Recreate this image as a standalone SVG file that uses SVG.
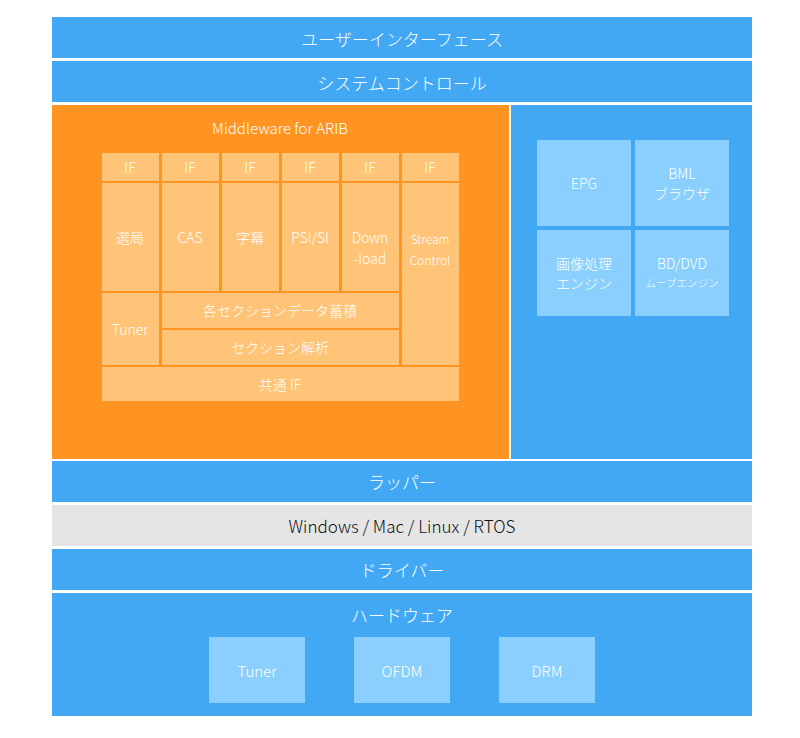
<svg xmlns="http://www.w3.org/2000/svg" width="800" height="738" viewBox="0 0 800 738">
<style>
text{font-family:"Noto Sans CJK JP","Noto Sans",sans-serif;fill:#fff;text-anchor:middle;dominant-baseline:central;font-weight:300}
.b{fill:#42a8f4}.o{fill:#ff9422}.lo{fill:#ffc477}.lb{fill:#8acffd}.g{fill:#e5e5e5}
.t17{font-size:17px}.t15{font-size:15px}.t14{font-size:14px}.t12{font-size:12px}
</style>
<rect width="800" height="738" fill="#fff"/>
<g id="ui"><rect class="b" x="52" y="17" width="700" height="41"/><text class="t17" x="402" y="38">ユーザーインターフェース</text></g>
<g id="sys"><rect class="b" x="52" y="61" width="700" height="41"/><text class="t17" x="402" y="82">システムコントロール</text></g>
<g id="mw"><rect class="o" x="52" y="105" width="457" height="354"/><text class="t15" x="280" y="127">Middleware for ARIB</text></g>
<g id="ifs">
<rect class="lo" x="102" y="153" width="57" height="28"/><text class="t14" x="130" y="167">IF</text>
<rect class="lo" x="162" y="153" width="57" height="28"/><text class="t14" x="190" y="167">IF</text>
<rect class="lo" x="222" y="153" width="57" height="28"/><text class="t14" x="250" y="167">IF</text>
<rect class="lo" x="282" y="153" width="57" height="28"/><text class="t14" x="310" y="167">IF</text>
<rect class="lo" x="342" y="153" width="57" height="28"/><text class="t14" x="370" y="167">IF</text>
<rect class="lo" x="402" y="153" width="57" height="28"/><text class="t14" x="430" y="167">IF</text>
</g>
<g id="senkyoku"><rect class="lo" x="102" y="183" width="57" height="108"/><text class="t14" x="130" y="237">選局</text></g>
<g id="cas"><rect class="lo" x="162" y="183" width="57" height="108"/><text class="t14" x="190" y="237">CAS</text></g>
<g id="jimaku"><rect class="lo" x="222" y="183" width="57" height="108"/><text class="t14" x="250" y="237">字幕</text></g>
<g id="psi"><rect class="lo" x="282" y="183" width="57" height="108"/><text class="t14" x="310" y="237">PSI/SI</text></g>
<g id="dl"><rect class="lo" x="342" y="183" width="57" height="108"/><text class="t14" x="370" y="237">Down</text><text class="t14" x="370" y="258">-load</text></g>
<g id="sc"><rect class="lo" x="402" y="183" width="57" height="182"/><text class="t12" x="430" y="238">Stream</text><text class="t12" x="430" y="259">Control</text></g>
<g id="tuner"><rect class="lo" x="102" y="293" width="57" height="72"/><text class="t14" x="130" y="329">Tuner</text></g>
<g id="store"><rect class="lo" x="162" y="293" width="237" height="35"/><text class="t14" x="280" y="310">各セクションデータ蓄積</text></g>
<g id="parse"><rect class="lo" x="162" y="330" width="237" height="35"/><text class="t14" x="280" y="347">セクション解析</text></g>
<g id="common"><rect class="lo" x="102" y="367" width="357" height="34"/><text class="t14" x="280" y="384">共通 IF</text></g>
<g id="right"><rect class="b" x="511" y="105" width="241" height="354"/></g>
<g id="epg"><rect class="lb" x="537" y="140" width="94" height="86"/><text class="t14" x="584" y="183">EPG</text></g>
<g id="bml"><rect class="lb" x="635" y="140" width="94" height="86"/><text class="t14" x="682" y="173">BML</text><text class="t14" x="682" y="193">ブラウザ</text></g>
<g id="img"><rect class="lb" x="537" y="230" width="94" height="86"/><text class="t14" x="584" y="263">画像処理</text><text class="t14" x="584" y="283">エンジン</text></g>
<g id="bd"><rect class="lb" x="635" y="230" width="94" height="86"/><text class="t14" x="682" y="263">BD/DVD</text><text style="font-size:10.5px" x="682" y="282">ムーブエンジン</text></g>
<g id="wrap"><rect class="b" x="52" y="461" width="700" height="41"/><text class="t17" x="402" y="481">ラッパー</text></g>
<g id="os"><rect class="g" x="52" y="505" width="700" height="41"/><text class="t17" x="402" y="525" style="fill:#111">Windows / Mac / Linux / RTOS</text></g>
<g id="drv"><rect class="b" x="52" y="549" width="700" height="41"/><text class="t17" x="402" y="569">ドライバー</text></g>
<g id="hw"><rect class="b" x="52" y="593" width="700" height="123"/><text class="t17" x="402" y="614">ハードウェア</text></g>
<g id="htuner"><rect class="lb" x="209" y="637" width="96" height="66"/><text class="t15" x="257" y="670">Tuner</text></g>
<g id="ofdm"><rect class="lb" x="354" y="637" width="96" height="66"/><text class="t15" x="402" y="670">OFDM</text></g>
<g id="drm"><rect class="lb" x="499" y="637" width="96" height="66"/><text class="t15" x="547" y="670">DRM</text></g>
<g id="connectors"/>
</svg>
